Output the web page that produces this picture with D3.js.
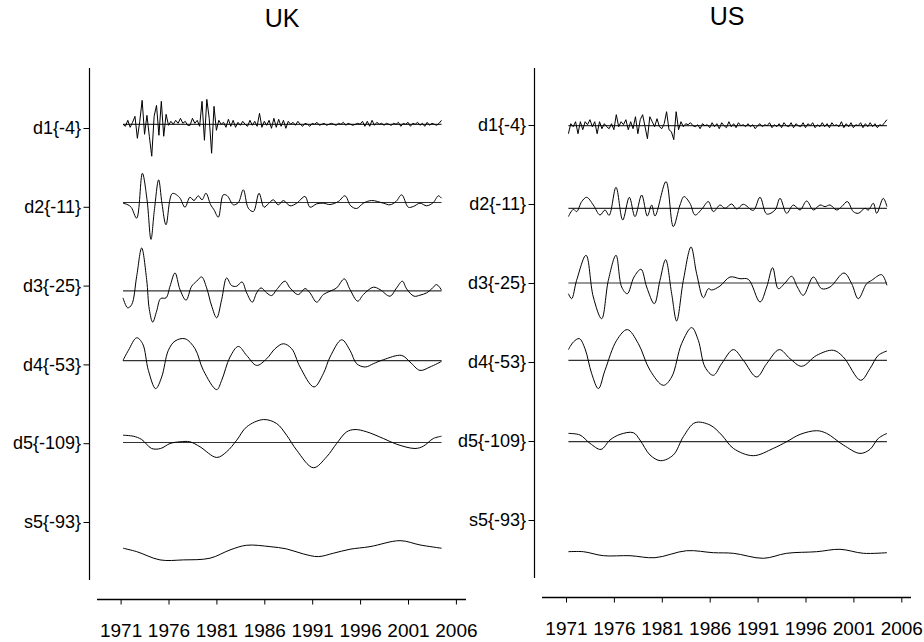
<!DOCTYPE html>
<html><head><meta charset="utf-8">
<script src="https://cdn.jsdelivr.net/npm/d3@7"></script>
<style>
body{margin:0;background:#fff}
svg{display:block}
text{font-family:"Liberation Sans",Arial,Helvetica,sans-serif;fill:#000}
</style>
</head><body>
<svg id="chart" width="924" height="642"></svg>
<script>
// ---------------- DATA ----------------
const countries = ["UK", "US"];
const levelLabels = ["d1{-4}", "d2{-11}", "d3{-25}", "d4{-53}", "d5{-109}", "s5{-93}"];
const yearTicks = [1971, 1976, 1981, 1986, 1991, 1996, 2001, 2006];
const quarterStart = 1971.25, quarterStep = 0.25;

// zero line of each detail, relative to its label tick (units)
const ukZero = [3.7, 4.3, -5.3, 3.7, 0.7];
const usZero = [-0.7, -4.3, 0, 1.7, -0.7];

// d1: quarterly values
const ukD1 = [0,-2,4,-3,2,8,-14,3,24,-10, 9,-12,-32,8,19,-11,23,-12,10,-1,
  3,0,4,1,6,1,3,-1,-1,6, 1,4,-2,23,-16,25,6,-29,18,-6,
  4,0,2,-3,5,-2,4,-3,2,-1, 3,0,-2,4,-1,3,-2,11,-3,3,
  -1,4,-4,6,-3,5,-2,4,-4,3, 0,2,-1,3,0,-2,1,0,-2,1,
  0,2,-1,0,1,-1,0,1,0,-1, 1,0,2,-1,1,0,-1,0,1,0,
  3,-2,3,-2,4,-1,2,0,1,-1, 1,0,-1,1,0,2,-2,1,0,2,
  -2,1,0,2,-1,1,-2,2,-1,1, 0,-1,1,4];
const usD1 = [-8,2,-1,4,-8,4,-4,4,1,6, -1,4,-8,4,-3,2,-1,-3,2,-4,
  11,-1,4,1,6,-4,4,-3,9,-8, 6,11,-1,-13,9,4,-1,7,-1,-3,
  2,14,-4,-6,-14,14,-4,4,-1,2, 1,3,0,-1,1,-3,2,0,1,-2,
  3,-1,2,-3,3,0,-2,4,-1,2, -2,3,0,1,-1,2,-1,1,-3,0,
  2,-1,1,0,3,-2,1,-1,2,-2, 3,0,-1,3,-2,2,0,-1,3,-2,
  2,0,3,-2,1,-1,3,-1,2,-2, 3,0,1,-1,4,-2,2,-1,3,-2,
  1,0,3,-2,2,-1,3,-1,2,-2, 1,0,3,6];

// d2..s5: [year, value]
const ukD2 = [[1971.25,-0.7],[1971.77,-2.3],[1972.12,-5],[1972.68,-15.7],[1973.27,29.3],[1973.76,2.7],[1974.17,-37],[1974.52,-8],[1974.97,22.7],[1975.32,-1],[1975.74,-22.3],[1976.4,9],[1977.13,5.3],[1977.72,-4.7],[1978.24,5.3],[1978.66,2],[1979.11,6.7],[1979.5,2.7],[1979.91,9.3],[1980.4,-2.3],[1980.75,-7.3],[1981.2,-14.7],[1981.72,7.7],[1982.14,6.7],[1982.77,-2.3],[1983.29,0],[1983.81,12.7],[1984.33,-5.7],[1984.86,-9],[1985.45,9.3],[1985.97,-4.7],[1986.42,-1.3],[1986.94,2.7],[1987.46,-2.3],[1987.99,2],[1988.68,-3.3],[1989.38,-0.7],[1990.25,6],[1990.77,-4.7],[1991.47,-1.3],[1992.16,-0.7],[1992.86,-2],[1993.73,1],[1994.42,6.7],[1995.02,-3.3],[1995.64,-6],[1996.34,-0.7],[1997.21,2],[1998.43,-0.7],[1999.12,-2.3],[1999.75,1],[2000.34,7.7],[2001.03,-4.7],[2001.56,-4],[2002.25,-0.7],[2002.95,-3.3],[2003.64,0],[2004.17,6.7],[2004.5,4.3]];
const ukD3 = [[1971.25,-7],[1971.74,-17],[1972.16,-13.7],[1972.68,14.7],[1973.2,43],[1973.72,11.3],[1974.0,-18.7],[1974.35,-31.3],[1974.76,-20.3],[1975.18,-7.7],[1975.74,-7],[1976.16,4.7],[1976.68,18],[1977.2,1.3],[1977.83,-9.3],[1978.42,4.7],[1978.94,9.7],[1979.46,14],[1979.98,3],[1980.51,-15.3],[1981.03,-27],[1981.55,-8.7],[1982.07,13],[1982.59,5.3],[1983.12,4.7],[1983.67,9],[1984.16,-2],[1984.75,-11.3],[1985.2,-2],[1985.66,3],[1986.25,-2],[1986.77,-4.7],[1987.29,1.3],[1988.16,9.7],[1988.68,3],[1989.55,-3.7],[1990.25,2.3],[1990.77,-2],[1991.47,-11.3],[1992.16,-3.7],[1992.86,-0.3],[1993.55,3],[1994.35,12],[1994.95,1.3],[1995.75,-10.3],[1996.34,-3.7],[1997.38,3.7],[1998.08,1.3],[1999.12,-5.3],[1999.81,3],[2000.41,9.7],[2000.86,2],[2001.63,-5.3],[2002.25,-4.3],[2002.95,-2],[2003.47,2],[2003.99,6.3],[2004.5,0.7]];
const ukD4 = [[1971.25,0.3],[1971.81,10.3],[1972.68,23],[1973.3,17],[1973.9,-9.7],[1974.66,-28],[1975.29,-16.3],[1975.98,10.3],[1976.68,19.7],[1977.72,22],[1978.77,12],[1979.64,-9.7],[1981.03,-29],[1981.55,-19.7],[1982.42,3.7],[1983.29,14.3],[1984.16,5.3],[1985.2,-4.7],[1986.25,2],[1987.12,12],[1987.99,17],[1988.86,12],[1989.73,-6.3],[1991.19,-26.3],[1992.16,-13],[1992.86,3.7],[1994.08,21],[1994.95,10.3],[1995.64,-3],[1996.55,-6.3],[1997.38,-3],[1998.43,1],[2000.34,5.3],[2001.21,-1.3],[2002.25,-9.7],[2003.3,-6.3],[2004.5,-0.7]];
const ukD5 = [[1971.25,7.3],[1972.33,6.3],[1973.2,3],[1974.24,-6],[1975.18,-6],[1976.16,-1],[1977.2,0.7],[1978.24,0.7],[1979.29,-4.3],[1981.03,-15],[1982.07,-9.3],[1983.12,2.3],[1984.16,15.7],[1985.9,23],[1987.29,19],[1988.33,7.3],[1989.38,-7.7],[1991.12,-25.3],[1992.51,-14.3],[1993.55,-1],[1994.6,10.7],[1995.47,13],[1996.69,10.7],[1998.43,4],[1999.81,-1.7],[2001.73,-6],[2002.6,-3.7],[2003.64,4],[2004.5,6.3]];
const ukS5 = [[1971.25,-26.3],[1972.68,-29.7],[1975.11,-38],[1977.55,-38],[1980.33,-36.3],[1982.42,-28],[1984.16,-23.3],[1986.6,-24.7],[1988.33,-27],[1990.07,-32],[1991.64,-34.7],[1993.21,-31.3],[1994.95,-27.3],[1997.03,-24.7],[2000.17,-18.7],[2002.25,-23],[2004.5,-26.3]];

const usD2 = [[1971.25,-8.3],[1971.77,-1],[1972.11,-3.3],[1972.64,6.7],[1973.16,11],[1973.85,3.3],[1974.55,-6.7],[1975.07,-1.7],[1975.5,-7],[1976.22,21],[1976.92,-11.7],[1977.61,11],[1978.2,-8.3],[1978.9,13.3],[1979.49,-7.7],[1979.94,3.3],[1980.29,-7.7],[1981.44,26.7],[1982.2,-18.3],[1982.9,3.3],[1983.32,11.7],[1983.94,5],[1984.47,-6.7],[1985.16,-1],[1985.86,6.7],[1986.38,-3.3],[1987.08,3.3],[1987.6,0],[1988.29,4.3],[1988.82,-0.7],[1989.51,4],[1990.55,-2],[1991.25,11],[1991.95,-5.7],[1992.82,-1.7],[1993.34,10],[1994.03,-5],[1994.73,3.3],[1995.43,-1.7],[1996.12,7.3],[1996.82,-1.7],[1997.51,3.3],[1998.04,1.7],[1998.56,3.3],[1999.25,-1.7],[1999.78,1.7],[2000.37,6.7],[2000.99,-3.3],[2001.51,-5],[2002.21,0],[2002.56,-1.7],[2003.08,5],[2003.43,-5],[2004.12,10],[2004.5,1.7]];
const usD3 = [[1971.25,-10.7],[1971.59,-15.7],[1972.11,2.7],[1973.09,27.7],[1973.85,-14],[1974.72,-35.7],[1975.42,2.7],[1976.22,27.7],[1976.81,-4],[1977.4,-10.7],[1978.1,6],[1978.83,13.7],[1979.42,-4],[1980.22,-20.7],[1980.81,2.7],[1981.4,23.3],[1982.03,-10.7],[1982.55,-38],[1983.25,2.7],[1984.05,36],[1984.64,9.3],[1985.34,-14.7],[1985.86,-5.7],[1986.21,-7],[1987.08,-3],[1988.12,6],[1989.16,4.3],[1990.03,3.7],[1991.25,-19],[1991.95,-4],[1992.57,15.3],[1993.16,-5.7],[1993.86,0],[1994.56,6.7],[1995.15,-4],[1995.77,-12.3],[1996.82,6],[1997.69,-5.7],[1998.56,-4],[2000.02,10],[2000.82,-0.7],[2001.51,-15.7],[2002.38,-0.7],[2002.91,2.7],[2003.95,8.3],[2004.5,-2.3]];
const usD4 = [[1971.25,10.7],[1971.77,18.3],[1972.39,21.7],[1972.98,11.7],[1973.68,-13.3],[1974.38,-28.3],[1975.07,-10],[1976.29,20],[1977.4,30.7],[1978.55,16.7],[1979.77,-10],[1981.16,-25],[1982.03,-16.7],[1983.07,16.7],[1984.12,32.7],[1984.81,20],[1985.51,-6.7],[1986.38,-15],[1987.25,-3.3],[1988.47,10.7],[1989.51,0],[1990.9,-16.7],[1991.95,-3.3],[1993.27,10.7],[1994.38,1.7],[1995.6,-6],[1997.17,5],[1998.91,10],[1999.95,3.3],[2001.76,-20],[2002.73,-8.3],[2003.6,5],[2004.5,9.3]];
const usD5 = [[1971.25,8.3],[1972.46,6.7],[1973.51,-1.7],[1974.65,-7.7],[1975.59,1.7],[1976.64,7.3],[1978.03,9],[1978.72,1.7],[1979.77,-13.3],[1980.88,-19],[1982.2,-13.3],[1983.25,5],[1984.47,19],[1986.03,16.7],[1987.25,6.7],[1988.47,-6.7],[1990.55,-14],[1992.64,-6.7],[1994.03,0],[1995.43,7.3],[1997.17,11],[1998.21,8.3],[1999.95,-3.3],[2001.69,-11.7],[2002.73,-7.7],[2003.6,3.3],[2004.5,8.3]];
const usS5 = [[1971.25,-31.7],[1972.81,-31.7],[1974.9,-35.7],[1977.68,-35.7],[1980.29,-37.7],[1983.6,-30.7],[1986.38,-32.7],[1988.47,-33.3],[1991.6,-38.3],[1994.03,-33.3],[1997.17,-31.7],[1999.6,-29.3],[2002.04,-33.3],[2004.5,-32.7]];

const levelGap = 79; // units between label ticks

// ---------------- LAYOUT ----------------
const layouts = {
  UK: {axisX: 89.5, axisTop: 68, axisBottom: 580, tickTop: 128, tickBottom: 522,
       x0: 120.6, x1: 455.9, baseY: 599.5, lineX0: 97, lineX1: 466, titleX: 282, titleY: 27},
  US: {axisX: 534.5, axisTop: 68, axisBottom: 578, tickTop: 125, tickBottom: 520,
       x0: 566, x1: 901.3, baseY: 597.5, lineX0: 542, lineX1: 911, titleX: 727, titleY: 25}
};
const seriesByCountry = {
  UK: {d1: ukD1, smooth: [ukD2, ukD3, ukD4, ukD5, ukS5], zero: ukZero},
  US: {d1: usD1, smooth: [usD2, usD3, usD4, usD5, usS5], zero: usZero}
};

const svg = d3.select("#chart");

countries.forEach(c => {
  const L = layouts[c], S = seriesByCountry[c];
  const g = svg.append("g");
  const x = d3.scaleLinear().domain([yearTicks[0], yearTicks[yearTicks.length - 1]]).range([L.x0, L.x1]);
  const y = d3.scaleLinear().domain([0, -5 * levelGap]).range([L.tickTop, L.tickBottom]);
  const levelVal = k => -k * levelGap;

  // title
  g.append("text").attr("x", L.titleX).attr("y", L.titleY)
    .attr("text-anchor", "middle").style("font-size", "25px").text(c);

  // left axis
  g.append("line").attr("x1", L.axisX).attr("x2", L.axisX)
    .attr("y1", L.axisTop).attr("y2", L.axisBottom).attr("stroke", "#000").attr("stroke-width", 1.2);
  const yAxis = d3.axisLeft(y).tickValues(levelLabels.map((d, i) => levelVal(i)))
    .tickFormat((d, i) => levelLabels[i]).tickSize(6).tickPadding(2.5);
  const ya = g.append("g").attr("transform", `translate(${L.axisX},0)`).call(yAxis);
  ya.select(".domain").remove();
  ya.selectAll("text").style("font-size", "18px").style("font-family", "'Liberation Sans',Arial,sans-serif");
  ya.selectAll("line").attr("stroke", "#000");

  // bottom axis
  g.append("line").attr("x1", L.lineX0).attr("x2", L.lineX1)
    .attr("y1", L.baseY).attr("y2", L.baseY).attr("stroke", "#000").attr("stroke-width", 1.5);
  const xAxis = d3.axisBottom(x).tickValues(yearTicks).tickFormat(d3.format("d")).tickSize(5).tickPadding(19);
  const xa = g.append("g").attr("transform", `translate(0,${L.baseY})`).call(xAxis);
  xa.select(".domain").remove();
  xa.selectAll("text").style("font-size", "19px").style("font-family", "'Liberation Sans',Arial,sans-serif");
  xa.selectAll("line").attr("stroke", "#000");

  // zero lines for d1..d5
  const firstYear = quarterStart, lastYear = quarterStart + (S.d1.length - 1) * quarterStep;
  S.zero.forEach((z, k) => {
    g.append("line").attr("x1", x(firstYear)).attr("x2", x(lastYear))
      .attr("y1", y(levelVal(k) + z)).attr("y2", y(levelVal(k) + z))
      .attr("stroke", "#333").attr("stroke-width", 1.2);
  });

  // d1 (quarterly, straight segments)
  const lineD1 = d3.line()
    .x((d, i) => x(quarterStart + i * quarterStep))
    .y(d => y(levelVal(0) + S.zero[0] + d));
  g.append("path").datum(S.d1).attr("d", lineD1)
    .attr("fill", "none").attr("stroke", "#000").attr("stroke-width", 1);

  // d2..s5 smooth
  S.smooth.forEach((arr, j) => {
    const k = j + 1;
    const z = k < 5 ? S.zero[k] : 0;
    const ln = d3.line().curve(d3.curveCatmullRom.alpha(0.5))
      .x(d => x(d[0])).y(d => y(levelVal(k) + z + d[1]));
    g.append("path").datum(arr).attr("d", ln)
      .attr("fill", "none").attr("stroke", "#000").attr("stroke-width", 1);
  });
});
</script>
</body></html>
